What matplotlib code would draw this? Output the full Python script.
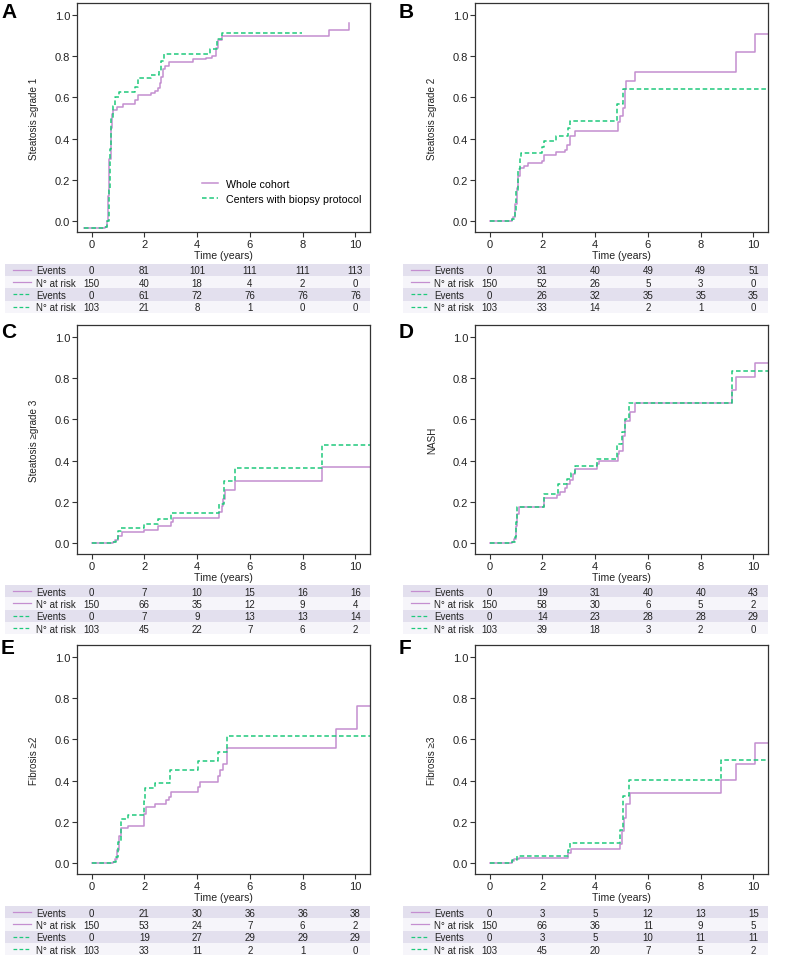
import matplotlib
matplotlib.use('Agg')
import matplotlib.pyplot as plt
import numpy as np

plt.rcParams['font.family'] = ['Liberation Sans', 'DejaVu Sans']

W, H = 787, 962
PURPLE = '#c48ed0'
GREEN = '#1fc97c'
ROW_DARK = '#e3e0ee'
ROW_LIGHT = '#f6f5fa'
INK = '#333333'

# ---- data: (time in years, cumulative incidence) ----
a_whole_t = [-0.28, 0.52, 0.58, 0.64, 0.68, 0.72, 0.76, 0.82, 0.95, 1.18, 1.65, 1.75, 2.25, 2.42, 2.52,
             2.58, 2.65, 2.72, 2.80, 2.95, 3.83, 4.35, 4.55, 4.72, 4.80, 4.95, 9.0, 9.75]
a_whole_y = [-0.036, -0.03, 0.0, 0.12, 0.30, 0.45, 0.52, 0.54, 0.555, 0.567, 0.59, 0.612, 0.62, 0.63, 0.645,
             0.67, 0.70, 0.74, 0.755, 0.775, 0.785, 0.79, 0.80, 0.84, 0.88, 0.90, 0.93, 0.965]
a_bio_t = [-0.28, 0.52, 0.60, 0.66, 0.70, 0.74, 0.80, 0.88, 1.05, 1.65, 1.75, 2.25, 2.55, 2.65, 2.75,
           4.50, 4.75, 4.95, 7.96]
a_bio_y = [-0.036, -0.03, 0.0, 0.15, 0.35, 0.50, 0.56, 0.60, 0.625, 0.65, 0.694, 0.709, 0.73, 0.78, 0.814,
           0.835, 0.887, 0.913, 0.913]

b_whole_t = [0, 0.84, 0.90, 0.98, 1.03, 1.08, 1.15, 1.30, 1.45, 2.0, 2.07, 2.53, 2.85, 2.95, 3.05, 3.25,
             4.85, 4.95, 5.05, 5.12, 5.16, 5.52, 9.32, 10.06, 10.7]
b_whole_y = [0, 0.01, 0.02, 0.08, 0.16, 0.22, 0.255, 0.264, 0.28, 0.29, 0.32, 0.335, 0.345, 0.37, 0.41, 0.435,
             0.48, 0.51, 0.55, 0.64, 0.681, 0.726, 0.819, 0.91, 0.91]
b_bio_t = [0, 0.86, 0.95, 1.02, 1.08, 1.15, 1.20, 2.0, 2.08, 2.53, 2.98, 3.05, 4.82, 5.05, 10.7]
b_bio_y = [0, 0.01, 0.05, 0.15, 0.25, 0.31, 0.33, 0.36, 0.39, 0.414, 0.45, 0.487, 0.568, 0.639, 0.639]

c_whole_t = [0, 0.80, 0.90, 1.0, 1.15, 2.0, 2.53, 3.0, 3.08, 4.82, 4.95, 5.0, 5.07, 5.45, 8.73, 10.7]
c_whole_y = [0, 0.005, 0.015, 0.035, 0.05, 0.063, 0.08, 0.10, 0.122, 0.15, 0.18, 0.215, 0.255, 0.30, 0.371, 0.371]
c_bio_t = [0, 0.80, 0.92, 1.0, 1.12, 2.0, 2.5, 3.03, 4.83, 5.03, 5.43, 8.73, 10.7]
c_bio_y = [0, 0.005, 0.02, 0.055, 0.072, 0.091, 0.117, 0.146, 0.19, 0.30, 0.366, 0.475, 0.475]

d_whole_t = [0, 0.84, 0.92, 1.0, 1.06, 1.10, 2.07, 2.55, 2.67, 2.85, 2.95, 3.05, 3.15, 3.25, 4.08, 4.15,
             4.85, 4.90, 5.05, 5.12, 5.33, 5.50, 9.20, 9.33, 10.07, 10.7]
d_whole_y = [0, 0.005, 0.02, 0.08, 0.14, 0.175, 0.216, 0.23, 0.247, 0.265, 0.285, 0.305, 0.335, 0.361, 0.385, 0.40,
             0.43, 0.447, 0.52, 0.595, 0.637, 0.68, 0.742, 0.808, 0.874, 0.874]
d_bio_t = [0, 0.85, 0.95, 1.0, 1.06, 2.05, 2.58, 2.95, 3.10, 3.22, 4.08, 4.82, 5.02, 5.12, 5.30, 9.20, 10.7]
d_bio_y = [0, 0.005, 0.03, 0.10, 0.175, 0.236, 0.288, 0.31, 0.34, 0.374, 0.408, 0.48, 0.54, 0.60, 0.678, 0.836, 0.836]

e_whole_t = [0, 0.80, 0.90, 0.98, 1.05, 1.10, 1.40, 1.97, 2.0, 2.05, 2.40, 2.82, 2.95, 3.03, 4.03, 4.12,
             4.78, 4.88, 4.97, 5.15, 9.28, 10.05, 10.7]
e_whole_y = [0, 0.005, 0.02, 0.06, 0.13, 0.167, 0.18, 0.20, 0.235, 0.269, 0.287, 0.305, 0.32, 0.342, 0.37, 0.395,
             0.42, 0.45, 0.483, 0.56, 0.65, 0.765, 0.765]
e_bio_t = [0, 0.80, 0.92, 1.0, 1.10, 1.38, 1.98, 2.02, 2.40, 2.97, 4.04, 4.80, 5.13, 10.7]
e_bio_y = [0, 0.005, 0.03, 0.10, 0.211, 0.233, 0.30, 0.365, 0.389, 0.45, 0.496, 0.541, 0.617, 0.617]

f_whole_t = [0, 0.84, 0.92, 1.10, 2.98, 3.08, 4.93, 5.0, 5.08, 5.17, 5.33, 8.77, 9.32, 10.06, 10.7]
f_whole_y = [0, 0.008, 0.02, 0.025, 0.045, 0.065, 0.09, 0.155, 0.22, 0.288, 0.34, 0.404, 0.48, 0.585, 0.585]
f_bio_t = [0, 0.85, 1.05, 2.97, 3.05, 4.95, 5.05, 5.30, 8.77, 10.7]
f_bio_y = [0, 0.015, 0.034, 0.06, 0.096, 0.16, 0.326, 0.404, 0.502, 0.502]

# numbers at risk tables (times 0, 2, 4, 6, 8, 10)
table_times = [0, 2, 4, 6, 8, 10]
a_events_whole = [0, 81, 101, 111, 111, 113]
a_risk_whole = [150, 40, 18, 4, 2, 0]
a_events_bio = [0, 61, 72, 76, 76, 76]
a_risk_bio = [103, 21, 8, 1, 0, 0]
b_events_whole = [0, 31, 40, 49, 49, 51]
b_risk_whole = [150, 52, 26, 5, 3, 0]
b_events_bio = [0, 26, 32, 35, 35, 35]
b_risk_bio = [103, 33, 14, 2, 1, 0]
c_events_whole = [0, 7, 10, 15, 16, 16]
c_risk_whole = [150, 66, 35, 12, 9, 4]
c_events_bio = [0, 7, 9, 13, 13, 14]
c_risk_bio = [103, 45, 22, 7, 6, 2]
d_events_whole = [0, 19, 31, 40, 40, 43]
d_risk_whole = [150, 58, 30, 6, 5, 2]
d_events_bio = [0, 14, 23, 28, 28, 29]
d_risk_bio = [103, 39, 18, 3, 2, 0]
e_events_whole = [0, 21, 30, 36, 36, 38]
e_risk_whole = [150, 53, 24, 7, 6, 2]
e_events_bio = [0, 19, 27, 29, 29, 29]
e_risk_bio = [103, 33, 11, 2, 1, 0]
f_events_whole = [0, 3, 5, 12, 13, 15]
f_risk_whole = [150, 66, 36, 11, 9, 5]
f_events_bio = [0, 3, 5, 10, 11, 11]
f_risk_bio = [103, 45, 20, 7, 5, 2]

panels = [
    ('A', 'Steatosis \u2265grade 1', a_whole_t, a_whole_y, a_bio_t, a_bio_y,
     [a_events_whole, a_risk_whole, a_events_bio, a_risk_bio]),
    ('B', 'Steatosis \u2265grade 2', b_whole_t, b_whole_y, b_bio_t, b_bio_y,
     [b_events_whole, b_risk_whole, b_events_bio, b_risk_bio]),
    ('C', 'Steatosis \u2265grade 3', c_whole_t, c_whole_y, c_bio_t, c_bio_y,
     [c_events_whole, c_risk_whole, c_events_bio, c_risk_bio]),
    ('D', 'NASH', d_whole_t, d_whole_y, d_bio_t, d_bio_y,
     [d_events_whole, d_risk_whole, d_events_bio, d_risk_bio]),
    ('E', 'Fibrosis \u22652', e_whole_t, e_whole_y, e_bio_t, e_bio_y,
     [e_events_whole, e_risk_whole, e_events_bio, e_risk_bio]),
    ('F', 'Fibrosis \u22653', f_whole_t, f_whole_y, f_bio_t, f_bio_y,
     [f_events_whole, f_risk_whole, f_events_bio, f_risk_bio]),
]
row_labels = ['Events', 'N\u00b0 at risk', 'Events', 'N\u00b0 at risk']

# ---- layout in pixels ----
col_axes = [(77, 370), (475, 768)]
col_table_left = [5, 403]
row_axes = [(4, 233), (326, 555), (646, 875)]
row_table_top = [264.7, 586, 907]
row_h = 12.3
letter_y = [12, 332, 648]
letter_x = [1, 399]
XLIM = (-0.55, 10.55)
YLIM = (-0.055, 1.06)
TICK_FS = 8
LABEL_FS = 7.1
TABLE_FS = 7
TEXT = '#222222'


def frac_rect(l, t, r, b):
    return [l / W, 1 - b / H, (r - l) / W, (b - t) / H]


fig = plt.figure(figsize=(W / 100, H / 100), dpi=100)

for i, (letter, ylab, wt, wy, bt, by, rows) in enumerate(panels):
    r, c = divmod(i, 2)
    l, rt = col_axes[c]
    t, b = row_axes[r]
    ax = fig.add_axes(frac_rect(l, t, rt, b))
    ax.plot(wt, wy, drawstyle='steps-post', color=PURPLE, lw=1.1, label='Whole cohort')
    ax.plot(bt, by, drawstyle='steps-post', color=GREEN, lw=1.1, ls=(0, (3, 1.8)),
            label='Centers with biopsy protocol')
    ax.set_xlim(*XLIM)
    ax.set_ylim(*YLIM)
    ax.set_xticks([0, 2, 4, 6, 8, 10])
    ax.set_yticks([0.0, 0.2, 0.4, 0.6, 0.8, 1.0])
    ax.set_yticklabels(['%.1f' % v for v in ax.get_yticks()])
    ax.tick_params(direction='out', length=3.5, width=0.8, color=INK, labelsize=TICK_FS,
                   labelcolor=TEXT, pad=1.5)
    for s in ax.spines.values():
        s.set_color(INK)
        s.set_linewidth(0.9)
    ax.set_ylabel(ylab, fontsize=LABEL_FS, color=TEXT)
    ax.yaxis.set_label_coords(-0.128, 0.5)
    ax.set_xlabel('Time (years)', fontsize=7.6, color=TEXT)
    ax.xaxis.set_label_coords(0.5, -0.08)
    fig.text(letter_x[c] / W, 1 - letter_y[r] / H, letter, fontsize=15, fontweight='bold',
             va='center', ha='left')
    if letter == 'A':
        ax.legend(loc='upper left', bbox_to_anchor=(0.395, 0.275), frameon=False, fontsize=7.7,
                  handlelength=1.5, handletextpad=0.7, labelspacing=0.5)

    # table under the panel
    tl = col_table_left[c]
    tt = row_table_top[r]
    tax = fig.add_axes(frac_rect(tl, tt, rt, tt + 4 * row_h))
    ppy = (rt - l) / (XLIM[1] - XLIM[0])
    x0 = XLIM[0] - (l - tl) / ppy
    tax.set_xlim(x0, XLIM[1])
    tax.set_ylim(4, 0)
    tax.axis('off')
    for k in range(4):
        tax.axhspan(k, k + 1, color=ROW_DARK if k % 2 == 0 else ROW_LIGHT, lw=0)
        is_whole = k < 2
        tax.plot([x0 + 7.5 / ppy, x0 + 26 / ppy], [k + 0.5, k + 0.5],
                 color=PURPLE if is_whole else GREEN, lw=0.9,
                 ls='-' if is_whole else (0, (3, 1.8)))
        tax.text(x0 + 31.5 / ppy, k + 0.55, row_labels[k], fontsize=TABLE_FS, va='center',
                 ha='left', color=TEXT)
        for tx, v in zip(table_times, rows[k]):
            tax.text(tx, k + 0.55, str(v), fontsize=TABLE_FS, va='center', ha='center', color=TEXT)

plt.savefig('out.png', dpi=100)
